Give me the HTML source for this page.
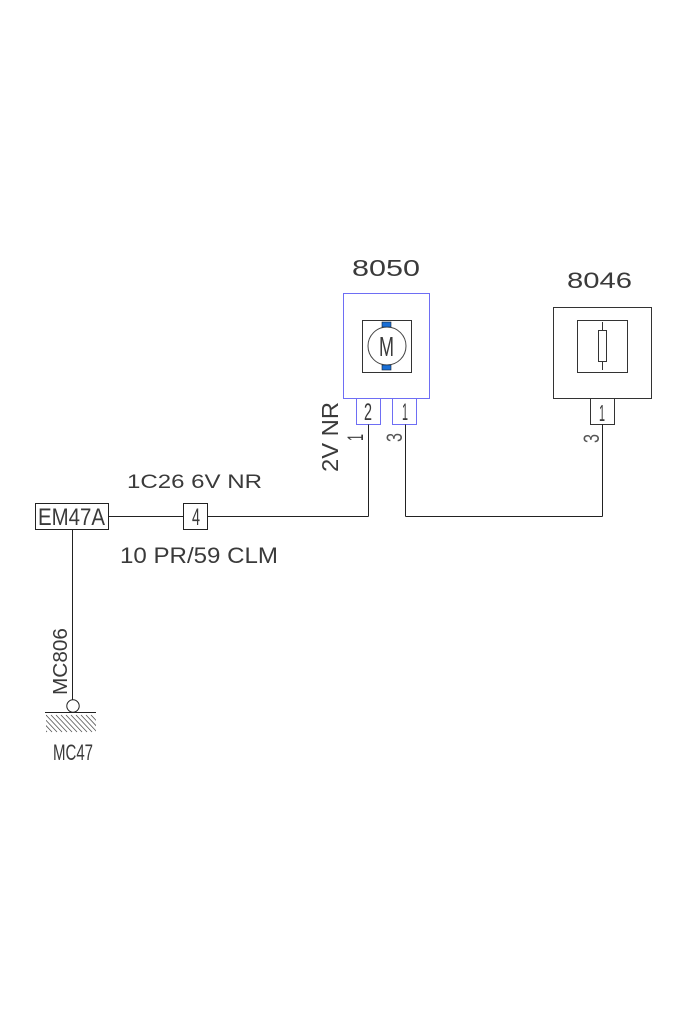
<!DOCTYPE html>
<html><head><meta charset="utf-8">
<style>html,body{margin:0;padding:0;background:#fff}svg{display:block}</style>
</head>
<body>
<svg width="700" height="1020" viewBox="0 0 700 1020" xmlns="http://www.w3.org/2000/svg" font-family="Liberation Sans, sans-serif">
<defs>
  <clipPath id="hc"><rect x="46" y="714" width="50" height="19"/></clipPath>
</defs>
<rect width="700" height="1020" fill="#fff"/>

<!-- 8050 motor component -->
<g fill="none" stroke-width="1">
  <rect x="343.5" y="293.5" width="86" height="105" stroke="#6e6ef4"/>
  <rect x="362.5" y="320.5" width="49" height="52" stroke="#333"/>
  <circle cx="387" cy="346" r="19" stroke="#444"/>
  <rect x="356.5" y="398.5" width="24" height="26" stroke="#6e6ef4"/>
  <rect x="392.5" y="398.5" width="24" height="26" stroke="#6e6ef4"/>
</g>
<rect x="382" y="322" width="9" height="5" fill="#1a6fd6" stroke="#123" stroke-width="0.6"/>
<rect x="382" y="365" width="9" height="5" fill="#1a6fd6" stroke="#123" stroke-width="0.6"/>

<!-- 8046 resistor component -->
<g fill="none" stroke="#333" stroke-width="1">
  <rect x="553.5" y="307.5" width="98" height="91"/>
  <rect x="577.5" y="320.5" width="50" height="52"/>
  <rect x="598.5" y="330.5" width="8" height="31"/>
  <line x1="602.5" y1="322" x2="602.5" y2="330.5"/>
  <line x1="602.5" y1="361.5" x2="602.5" y2="370"/>
  <rect x="590.5" y="398.5" width="24" height="26"/>
</g>

<!-- wires & boxes -->
<g fill="none" stroke="#222" stroke-width="1">
  <rect x="35.5" y="503.5" width="73" height="26"/>
  <rect x="183.5" y="503.5" width="24" height="26"/>
  <line x1="108.5" y1="516.5" x2="183.5" y2="516.5"/>
  <line x1="207.5" y1="516.5" x2="368.5" y2="516.5"/>
  <line x1="368.5" y1="424.5" x2="368.5" y2="516.5"/>
  <line x1="405.5" y1="424.5" x2="405.5" y2="516.5"/>
  <line x1="405.5" y1="516.5" x2="602.5" y2="516.5"/>
  <line x1="602.5" y1="424.5" x2="602.5" y2="516.5"/>
  <line x1="72.5" y1="529.5" x2="72.5" y2="700"/>
  <circle cx="73" cy="706" r="6.2"/>
  <line x1="45" y1="712.5" x2="96" y2="712.5"/>
  <g clip-path="url(#hc)" stroke="#555" stroke-width="0.8">
    <line x1="31" y1="715" x2="47" y2="732"/>
    <line x1="36" y1="715" x2="52" y2="732"/>
    <line x1="41" y1="715" x2="57" y2="732"/>
    <line x1="46" y1="715" x2="62" y2="732"/>
    <line x1="51" y1="715" x2="67" y2="732"/>
    <line x1="56" y1="715" x2="72" y2="732"/>
    <line x1="61" y1="715" x2="77" y2="732"/>
    <line x1="66" y1="715" x2="82" y2="732"/>
    <line x1="71" y1="715" x2="87" y2="732"/>
    <line x1="76" y1="715" x2="92" y2="732"/>
    <line x1="81" y1="715" x2="97" y2="732"/>
    <line x1="86" y1="715" x2="102" y2="732"/>
    <line x1="91" y1="715" x2="107" y2="732"/>
  </g>
</g>

<!-- text -->
<g fill="#3a3a3a">
  <text x="352" y="276" font-size="23" textLength="68" lengthAdjust="spacingAndGlyphs">8050</text>
  <text x="567" y="288" font-size="22" textLength="65" lengthAdjust="spacingAndGlyphs">8046</text>
  <text x="379" y="356" font-size="28" textLength="15" lengthAdjust="spacingAndGlyphs">M</text>
  <text x="364" y="420" font-size="24" textLength="8" lengthAdjust="spacingAndGlyphs">2</text>
  <text x="402" y="420" font-size="24" textLength="6" lengthAdjust="spacingAndGlyphs">1</text>
  <text x="599" y="421" font-size="23" textLength="6" lengthAdjust="spacingAndGlyphs">1</text>
  <text x="127" y="488" font-size="19" textLength="135" lengthAdjust="spacingAndGlyphs">1C26 6V NR</text>
  <text x="120" y="563" font-size="22" textLength="158" lengthAdjust="spacingAndGlyphs">10 PR/59 CLM</text>
  <text x="38" y="525" font-size="24" textLength="67" lengthAdjust="spacingAndGlyphs">EM47A</text>
  <text x="192" y="525" font-size="24" textLength="8" lengthAdjust="spacingAndGlyphs">4</text>
  <text x="53" y="760" font-size="22" textLength="40" lengthAdjust="spacingAndGlyphs">MC47</text>
  <text transform="translate(67,695) rotate(-90)" font-size="20" textLength="67" lengthAdjust="spacingAndGlyphs">MC806</text>
  <text transform="translate(338,472) rotate(-90)" font-size="23" textLength="70" lengthAdjust="spacingAndGlyphs">2V NR</text>
  <text transform="translate(363,441) rotate(-90)" font-size="22" textLength="7" lengthAdjust="spacingAndGlyphs">1</text>
  <text transform="translate(402,442) rotate(-90)" font-size="22" textLength="9" lengthAdjust="spacingAndGlyphs" fill="#555">3</text>
  <text transform="translate(599,443) rotate(-90)" font-size="22" textLength="9" lengthAdjust="spacingAndGlyphs" fill="#555">3</text>
</g>
</svg>
</body></html>
